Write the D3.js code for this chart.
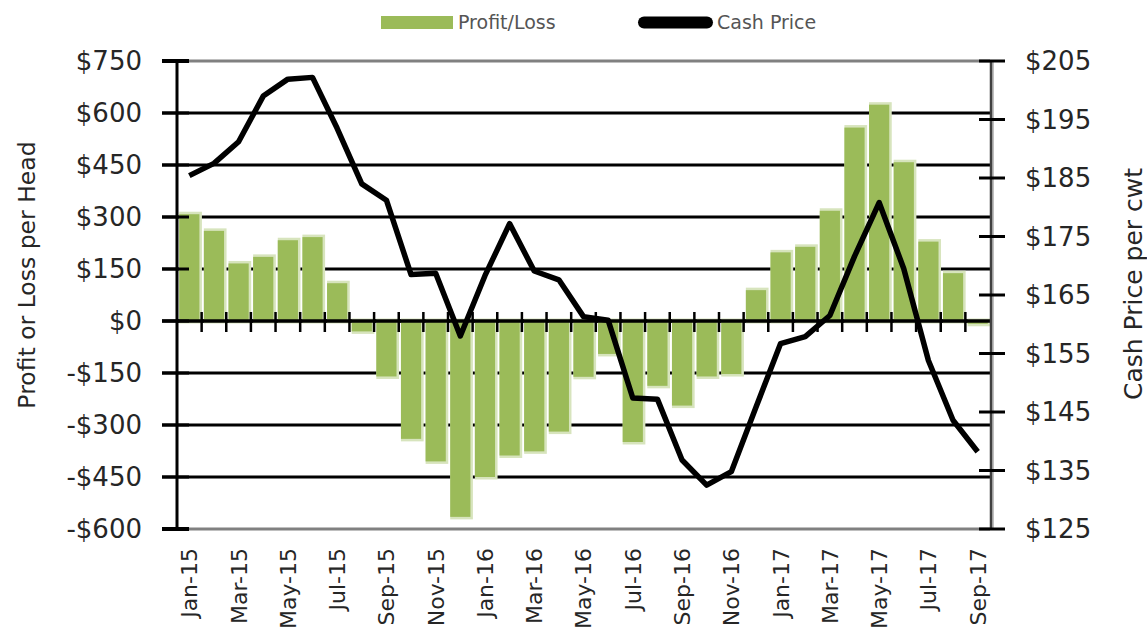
<!DOCTYPE html>
<html>
<head>
<meta charset="utf-8">
<script src="https://cdn.jsdelivr.net/npm/d3@7"></script>
<style>
  body { margin: 0; background: #fff; }
  svg { display: block; font-family: "DejaVu Sans", sans-serif; }
</style>
</head>
<body>
<div id="chart"></div>
<script>
// monthly data, Jan-15 .. Sep-17
let months = ["Jan-15","Feb-15","Mar-15","Apr-15","May-15","Jun-15","Jul-15","Aug-15","Sep-15","Oct-15","Nov-15","Dec-15",
              "Jan-16","Feb-16","Mar-16","Apr-16","May-16","Jun-16","Jul-16","Aug-16","Sep-16","Oct-16","Nov-16","Dec-16",
              "Jan-17","Feb-17","Mar-17","Apr-17","May-17","Jun-17","Jul-17","Aug-17","Sep-17"]

let profit = [308, 260, 166, 185, 233, 242, 109, -30, -160, -340, -405, -565,
              -450, -388, -376, -319, -161, -95, -349, -187, -244, -160, -153, 89,
              198, 214, 318, 558, 624, 458, 229, 138, -8]

let cash = [185.4, 187.5, 191.2, 199.0, 201.9, 202.2, 193.5, 184.0, 181.2, 168.5, 168.7, 158.0,
            168.3, 177.2, 169.1, 167.6, 161.3, 160.7, 147.4, 147.2, 136.8, 132.5, 134.8, 145.8,
            156.7, 157.9, 161.5, 171.6, 180.8, 169.5, 153.8, 143.6, 138.2]

let leftTicks = [750, 600, 450, 300, 150, 0, -150, -300, -450, -600]
let rightTicks = [205, 195, 185, 175, 165, 155, 145, 135, 125]
let labelMonths = months.filter((d, i) => i % 2 == 0)

let W = 1147, H = 636
let plotLeft = 177, plotRight = 990, plotTop = 61, plotBottom = 529

let svg = d3.select("#chart").append("svg")
    .attr("width", W)
    .attr("height", H)

let x = d3.scaleBand()
    .domain(months)
    .range([plotLeft, plotRight])
    .paddingInner(0.18)
    .paddingOuter(0.09)

let yL = d3.scaleLinear().domain([-600, 750]).range([plotBottom, plotTop])
let yR = d3.scaleLinear().domain([125, 205]).range([plotBottom, plotTop])

let fmt = v => (v < 0 ? "-$" : "$") + Math.abs(v)

// gridlines (top and bottom ones grey)
svg.append("g").selectAll("line")
    .data(leftTicks)
    .enter().append("line")
    .attr("x1", plotLeft - 15)
    .attr("x2", plotRight)
    .attr("y1", d => yL(d))
    .attr("y2", d => yL(d))
    .attr("stroke", d => (d == 750 || d == -600) ? "#808080" : "#000")
    .attr("stroke-width", d => d == 0 ? 3.5 : 3)

// bars: light halo then the bar
let bars = svg.append("g")
bars.selectAll(".halo")
    .data(profit)
    .enter().append("rect")
    .attr("class", "halo")
    .attr("x", (d, i) => x(months[i]))
    .attr("width", x.bandwidth() + 2.5)
    .attr("y", d => Math.min(yL(d), yL(0)) - 2.5)
    .attr("height", d => Math.abs(yL(d) - yL(0)) + 5)
    .attr("fill", "#d7e4bd")

bars.selectAll(".bar")
    .data(profit)
    .enter().append("rect")
    .attr("class", "bar")
    .attr("x", (d, i) => x(months[i]))
    .attr("width", x.bandwidth())
    .attr("y", d => Math.min(yL(d), yL(0)))
    .attr("height", d => Math.abs(yL(d) - yL(0)))
    .attr("fill", "#9bbb59")

// zero line and category ticks
svg.append("line")
    .attr("x1", plotLeft).attr("x2", plotRight)
    .attr("y1", yL(0)).attr("y2", yL(0))
    .attr("stroke", "#000").attr("stroke-width", 3.5)

svg.append("g").selectAll("line")
    .data(months.slice(1))
    .enter().append("line")
    .attr("x1", d => x(d) - x.step() * x.paddingInner() / 2)
    .attr("x2", d => x(d) - x.step() * x.paddingInner() / 2)
    .attr("y1", yL(0) - 9)
    .attr("y2", yL(0) + 11)
    .attr("stroke", "#000")
    .attr("stroke-width", 2.5)

// left axis
svg.append("line")
    .attr("x1", plotLeft).attr("x2", plotLeft)
    .attr("y1", plotTop).attr("y2", plotBottom)
    .attr("stroke", "#000").attr("stroke-width", 3)

svg.append("g").selectAll("line")
    .data(leftTicks)
    .enter().append("line")
    .attr("x1", plotLeft - 15).attr("x2", plotLeft + 12)
    .attr("y1", d => yL(d)).attr("y2", d => yL(d))
    .attr("stroke", "#000")
    .attr("stroke-width", d => (d == 750 || d == -600) ? 4 : 3)

svg.append("g").selectAll("text")
    .data(leftTicks)
    .enter().append("text")
    .attr("x", 142)
    .attr("y", d => yL(d))
    .attr("dy", "0.36em")
    .attr("text-anchor", "end")
    .attr("font-size", 26)
    .attr("fill", "#262626")
    .text(fmt)

// right axis
svg.append("line")
    .attr("x1", plotRight + 3).attr("x2", plotRight + 3)
    .attr("y1", plotTop).attr("y2", plotBottom)
    .attr("stroke", "#c0c0c0").attr("stroke-width", 2)
svg.append("line")
    .attr("x1", plotRight + 1).attr("x2", plotRight + 1)
    .attr("y1", plotTop).attr("y2", plotBottom)
    .attr("stroke", "#404040").attr("stroke-width", 2.5)

svg.append("g").selectAll("line")
    .data(rightTicks)
    .enter().append("line")
    .attr("x1", plotRight - 11).attr("x2", plotRight + 15)
    .attr("y1", d => yR(d)).attr("y2", d => yR(d))
    .attr("stroke", "#000")
    .attr("stroke-width", 3)

svg.append("g").selectAll("text")
    .data(rightTicks)
    .enter().append("text")
    .attr("x", 1025)
    .attr("y", d => yR(d))
    .attr("dy", "0.36em")
    .attr("font-size", 26)
    .attr("fill", "#262626")
    .text(fmt)

// cash price line
let line = d3.line()
    .x((d, i) => x(months[i]) + x.bandwidth() / 2)
    .y(d => yR(d))

svg.append("path")
    .datum(cash)
    .attr("d", line)
    .attr("fill", "none")
    .attr("stroke", "#000")
    .attr("stroke-width", 5.5)
    .attr("stroke-linejoin", "round")

// month labels
svg.append("g").selectAll("text")
    .data(labelMonths)
    .enter().append("text")
    .attr("transform", d => "translate(" + (x(d) + x.bandwidth() / 2) + ",548) rotate(-90)")
    .attr("dy", "0.36em")
    .attr("text-anchor", "end")
    .attr("font-size", 22)
    .attr("fill", "#262626")
    .text(d => d)

// axis titles
svg.append("text")
    .attr("transform", "translate(27,275) rotate(-90)")
    .attr("dy", "0.36em")
    .attr("text-anchor", "middle")
    .attr("font-size", 23.5)
    .attr("fill", "#262626")
    .text("Profit or Loss per Head")

svg.append("text")
    .attr("transform", "translate(1133,284) rotate(-90)")
    .attr("dy", "0.36em")
    .attr("text-anchor", "middle")
    .attr("font-size", 25)
    .attr("fill", "#262626")
    .text("Cash Price per cwt")

// legend
let legend = svg.append("g")
legend.append("rect")
    .attr("x", 381).attr("y", 16)
    .attr("width", 72).attr("height", 13)
    .attr("fill", "#9bbb59")
legend.append("text")
    .attr("x", 458).attr("y", 22.5)
    .attr("dy", "0.36em")
    .attr("font-size", 19)
    .attr("fill", "#555")
    .text("Profit/Loss")
legend.append("line")
    .attr("x1", 644).attr("x2", 707)
    .attr("y1", 22.5).attr("y2", 22.5)
    .attr("stroke", "#000")
    .attr("stroke-width", 12)
    .attr("stroke-linecap", "round")
legend.append("text")
    .attr("x", 717).attr("y", 22.5)
    .attr("dy", "0.36em")
    .attr("font-size", 19)
    .attr("fill", "#555")
    .text("Cash Price")
</script>
</body>
</html>
